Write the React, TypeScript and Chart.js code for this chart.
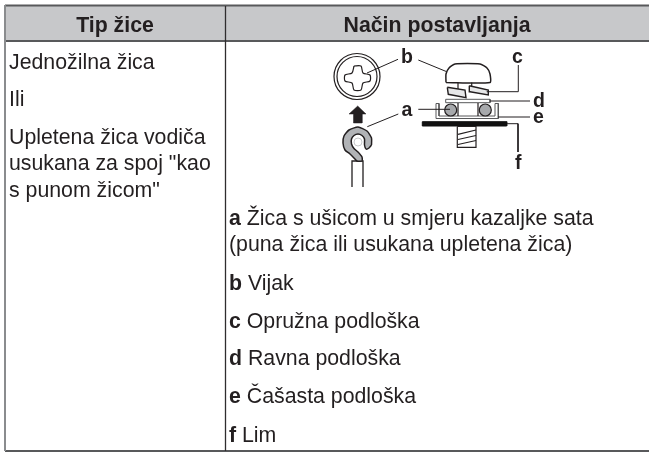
import React, { useEffect, useRef } from "react";
import { Chart, registerables } from "chart.js";

Chart.register(...registerables);

const FONT = '"Liberation Sans", Arial, sans-serif';
const INK = "#231f20";
const RULE = "#58595b";
const TEXT_SIZE = 21.3;
const CALLOUT_SIZE = 19.5;

// ---- text ----
const headers = ["Tip žice", "Način postavljanja"];
const wireTypes = ["Jednožilna žica", "Ili", "Upletena žica vodiča", 'usukana za spoj "kao', 's punom žicom"'];
const legendKeys = ["a", "", "b", "c", "d", "e", "f"];
const legendTexts = [
  "Žica s ušicom u smjeru kazaljke sata",
  "(puna žica ili usukana upletena žica)",
  "Vijak",
  "Opružna podloška",
  "Ravna podloška",
  "Čašasta podloška",
  "Lim",
];
const calloutLabels = ["a", "b", "c", "d", "e", "f"];

// ---- text anchors in page units ----
const wireTypeBaselines = [68.5, 105.5, 143.5, 169.5, 196.5];
const legendBaselines = [225, 251, 290, 328, 365, 403, 442];
const calloutAnchors = [[401.5, 115.5], [401, 63], [512, 63], [533, 107], [533, 123], [515, 168.5]];

type P = [number, number];
// ---- table rules ----
const topRule: P[] = [[5, 5.5], [649, 5.5]];
const headRule: P[] = [[5, 41], [649, 41]];
const bottomRule: P[] = [[5, 451], [649, 451]];
const leftRule: P[] = [[5, 5], [5, 451]];
const columnRule: P[] = [[225.5, 6], [225.5, 451]];
const headerFill: P[] = [[5, 6], [649, 6], [649, 41], [5, 41], [5, 6]];

// ---- diagram outlines in page units ----
const crossSlot: P[] = [[354, 66], [361, 66], [363, 73], [370, 75], [370, 81], [363, 83], [361, 90], [354, 90], [352, 83], [345, 81], [345, 75], [352, 73], [354, 66]];
const upArrow: P[] = [[357.7, 106], [366, 114], [362, 114], [362, 123], [353.5, 123], [353.5, 114], [349, 114], [357.7, 106]];
const ringLug: P[] = [[371.5, 145], [371.5, 138], [367, 131], [358, 127], [349, 130], [344, 136], [343, 143], [345, 150], [350, 154], [354, 158], [357, 161], [362, 161], [362, 157], [358, 152], [354, 148.5], [351.5, 144], [351.5, 139], [354, 135.5], [358, 134], [362, 135.5], [364.5, 139], [364.5, 145], [366, 149], [369, 148], [371.5, 145]];
const wireBody: P[] = [[352, 187], [352, 161], [363, 161], [363, 187]];
const screwHead: P[] = [[446, 82.5], [490, 82.5], [490, 74], [487, 68], [480, 64], [455, 64], [449, 68], [446, 74], [446, 82.5]];
const neckLeft: P[] = [[458, 82.5], [458, 89]];
const neckRight: P[] = [[471.7, 82.5], [471.7, 87]];
const springLeft: P[] = [[447.3, 87.3], [465, 90], [466, 97.7], [448.3, 94.3], [447.3, 87.3]];
const springRight: P[] = [[469.3, 85.7], [488.3, 90], [488.3, 95], [470, 91.7], [469.3, 85.7]];
const flatWasher: P[] = [[445.7, 99.3], [490, 99.3], [490, 102.7], [445.7, 102.7], [445.7, 99.3]];
const cupWasher: P[] = [[436, 103.5], [439, 103.5], [439, 116], [495, 116], [495, 103.5], [498.3, 103.5], [498.3, 118.5], [436, 118.5], [436, 103.5]];
const shankLeft: P[] = [[458, 103], [458, 116]];
const shankRight: P[] = [[478, 103], [478, 116]];
const plate: P[] = [[422.3, 121.7], [506.7, 121.7], [506.7, 126], [422.3, 126], [422.3, 121.7]];
const screwEnd: P[] = [[457.3, 126.5], [476, 126.5], [476, 147.3], [457.3, 147.3], [457.3, 126.5]];
const threadA: P[] = [[458, 134.3], [476, 130]];
const threadB: P[] = [[458, 139.5], [476, 135.5]];
const threadC: P[] = [[458, 144.5], [476, 140.5]];
const leaders: P[][] = [
  [[398, 59.3], [367, 73]],
  [[398.3, 114], [367.3, 126.7]],
  [[418.3, 60], [446.7, 71.7]],
  [[486.7, 91.7], [518.3, 91.7], [518.3, 65]],
  [[418.3, 109.3], [450, 109.3]],
  [[490, 101], [530, 101]],
  [[498, 117], [530, 117]],
  [[507, 123.7], [518, 123.7], [518, 152]],
];
const screwCentre: P[] = [[357, 76.5]];
const curlCentre: P[] = [[358, 142]];
const wireSections: P[] = [[450.7, 110], [485.3, 110]];

const xy = (pts: P[]) => pts.map(([x, y]) => ({ x, y }));

const line = (pts: P[], color = INK, width = 1.2, fillColor?: string, tension = 0) => ({
  type: "scatter" as const,
  data: xy(pts),
  showLine: true,
  borderColor: color,
  borderWidth: width,
  pointRadius: 0,
  tension,
  fill: fillColor ? "shape" : false,
  backgroundColor: fillColor ?? "transparent",
});

const dot = (pts: P[], radius: number, fillColor: string, color = INK, width = 1.2) => ({
  type: "scatter" as const,
  data: xy(pts),
  showLine: false,
  pointStyle: "circle",
  pointRadius: radius,
  pointBackgroundColor: fillColor,
  pointBorderColor: color,
  pointBorderWidth: width,
});

const tablePlugin = {
  id: "tableText",
  afterDatasetsDraw(chart: any) {
    const { ctx, scales } = chart;
    const X = (v: number) => scales.x.getPixelForValue(v);
    const Y = (v: number) => scales.y.getPixelForValue(v);
    ctx.save();
    ctx.fillStyle = INK;
    ctx.textBaseline = "alphabetic";

    ctx.font = `bold ${TEXT_SIZE}px ${FONT}`;
    ctx.textAlign = "center";
    ctx.fillText(headers[0], X(115), Y(32));
    ctx.fillText(headers[1], X(437), Y(32));

    ctx.textAlign = "left";
    ctx.font = `${TEXT_SIZE}px ${FONT}`;
    wireTypes.forEach((t, i) => ctx.fillText(t, X(9), Y(wireTypeBaselines[i])));

    legendTexts.forEach((t, i) => {
      let x = X(229);
      if (legendKeys[i]) {
        ctx.font = `bold ${TEXT_SIZE}px ${FONT}`;
        ctx.fillText(legendKeys[i], x, Y(legendBaselines[i]));
        x += ctx.measureText(legendKeys[i] + " ").width;
      }
      ctx.font = `${TEXT_SIZE}px ${FONT}`;
      ctx.fillText(t, x, Y(legendBaselines[i]));
    });

    ctx.font = `bold ${CALLOUT_SIZE}px ${FONT}`;
    calloutLabels.forEach((t, i) => ctx.fillText(t, X(calloutAnchors[i][0]), Y(calloutAnchors[i][1])));
    ctx.restore();
  },
};

export default function App() {
  const ref = useRef<HTMLCanvasElement>(null);
  useEffect(() => {
    // listed back to front; Chart.js paints the first dataset last, so the list is reversed
    const layers = [
      line(headerFill, "#c7c8ca", 0, "#c7c8ca"),
      line(topRule, RULE, 2),
      line(headRule, RULE, 2),
      line(bottomRule, RULE, 2),
      line(leftRule, "#8a8c8e", 2),
      line(columnRule, "#2f2d2e", 1.3),
      dot(screwCentre, 23, "#ffffff"),
      dot(screwCentre, 20, "#ffffff"),
      line(crossSlot, INK, 1.2, "#ffffff", 0.25),
      line(upArrow, INK, 0.5, INK),
      line(wireBody, INK, 1.3),
      line(ringLug, INK, 1.5, "#b1b3b6", 0.2),
      dot(curlCentre, 4, "transparent", "#c7c8ca", 1),
      line(screwHead, INK, 1.5, "#ffffff", 0.2),
      line(neckLeft),
      line(neckRight),
      line(springLeft, INK, 1.4, "#e6e7e8"),
      line(springRight, INK, 1.4, "#e6e7e8"),
      line(flatWasher, "#58595b", 1),
      line(cupWasher, "#58595b", 1),
      line(shankLeft),
      line(shankRight),
      dot(wireSections, 6, "#a7a9ac"),
      line(plate, "#111111", 1, "#111111"),
      line(screwEnd, INK, 1.2),
      line(threadA),
      line(threadB),
      line(threadC),
      ...leaders.map((l) => line(l, INK, 1)),
    ];
    const chart = new Chart(ref.current!, {
      type: "scatter",
      data: { datasets: layers.reverse() as any },
      options: {
        animation: false,
        responsive: false,
        devicePixelRatio: 1,
        layout: { padding: 0, autoPadding: false },
        plugins: { legend: { display: false }, tooltip: { enabled: false } },
        scales: {
          x: { type: "linear", min: 0, max: 649, display: false },
          y: { type: "linear", min: 0, max: 452, reverse: true, display: false },
        },
      },
      plugins: [tablePlugin],
    });
    return () => chart.destroy();
  }, []);
  return (
    <div style={{ position: "fixed", left: 0, top: 0, width: 649, height: 452, background: "#fff" }}>
      <canvas ref={ref} width={649} height={452} style={{ display: "block" }} />
    </div>
  );
}
